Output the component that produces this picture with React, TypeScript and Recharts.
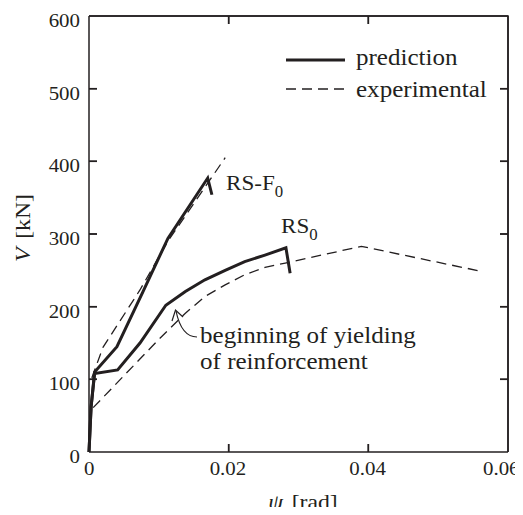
import { LineChart, Line, XAxis, YAxis, ReferenceLine } from "recharts";

const psiTicks = [0, 0.02, 0.04, 0.06];
const vTicks = [0, 100, 200, 300, 400, 500, 600];
const psiInnerTicks = [0.02, 0.04];
const vInnerTicks = [100, 200, 300, 400, 500];

// RS-F0, prediction
const rsf0PredPsi = [0, 0.0003, 0.0008, 0.004, 0.0077, 0.0113, 0.017, 0.0176];
const rsf0PredV = [0, 62, 110, 145, 220, 294, 377, 354];
// RS-F0, experimental
const rsf0ExpPsi = [0.0004, 0.002, 0.0073, 0.0113, 0.0195];
const rsf0ExpV = [102, 144, 223, 290, 405];
// RS0, prediction
const rs0PredPsi = [0, 0.0003, 0.0008, 0.0041, 0.0073, 0.011, 0.0138, 0.0166, 0.0195, 0.0223, 0.0252, 0.0282, 0.0288];
const rs0PredV = [0, 62, 108, 113, 150, 202, 221, 237, 250, 262, 271, 281, 246];
// RS0, experimental
const rs0ExpPsi = [0.0006, 0.0102, 0.0138, 0.0166, 0.0195, 0.0223, 0.0252, 0.0281, 0.039, 0.056];
const rs0ExpV = [61, 157, 191, 214, 230, 244, 254, 260, 283, 249];

const zip = (xs: number[], ys: number[]) => xs.map((x, i) => ({ psi: x, v: ys[i] }));

const INK = "#231f20";
const FONT = "Liberation Serif";
const PSI_MAX = 0.06;
const V_MAX = 600;

const W = 523;
const H = 515;
const margin = { top: 16, right: 15, left: 29, bottom: 33 };
const Y_AXIS_W = 60;
const X_AXIS_H = 30;
const plotL = margin.left + Y_AXIS_W;
const plotR = W - margin.right;
const plotT = margin.top;
const plotB = H - margin.bottom - X_AXIS_H;
const px = (psi: number) => plotL + (psi / PSI_MAX) * (plotR - plotL);
const py = (v: number) => plotB - (v / V_MAX) * (plotB - plotT);
const TICK_PX = 8;
const TICK_V = (TICK_PX / (plotB - plotT)) * V_MAX;
const TICK_PSI = (TICK_PX / (plotR - plotL)) * PSI_MAX;

const BottomTick = (props: any) => {
  const x = Number(props.x);
  const y = Number(props.y);
  const v = props.payload.value;
  const label = v === 0 ? "0" : v.toFixed(2);
  const tx = v === PSI_MAX ? 521 - 38 : v === 0 ? x - 5 : x - 19;
  return (
    <text transform={`translate(${tx},${y + 23}) scale(1.1,1)`} fontFamily={FONT} fontSize={19} fill={INK}>
      {label}
    </text>
  );
};

const LeftTick = (props: any) => {
  const x = Number(props.x);
  const y = Number(props.y);
  return (
    <text transform={`translate(${x - 9},${y + 11}) scale(1.1,1)`} textAnchor="end" fontFamily={FONT} fontSize={19} fill={INK}>
      {props.payload.value}
    </text>
  );
};

const dashed = { stroke: INK, strokeWidth: 1.3, strokeDasharray: "10 6" };
const solid = { stroke: INK, strokeWidth: 3 };

export default function App() {
  return (
    <div style={{ width: W, height: H, margin: -8, background: "#fff" }}>
      <LineChart width={W} height={H} margin={margin}>
        <XAxis
          type="number"
          dataKey="psi"
          domain={[0, PSI_MAX]}
          ticks={psiTicks}
          interval={0}
          tickSize={0}
          tickMargin={0}
          tickLine={false}
          height={X_AXIS_H}
          stroke={INK}
          strokeWidth={1.5}
          tick={BottomTick}
        />
        <YAxis
          type="number"
          domain={[0, V_MAX]}
          ticks={vTicks}
          interval={0}
          tickSize={0}
          tickMargin={0}
          tickLine={false}
          width={Y_AXIS_W}
          stroke={INK}
          strokeWidth={1.5}
          tick={LeftTick}
        />
        <ReferenceLine y={V_MAX} stroke={INK} strokeWidth={1.5} />
        <ReferenceLine x={PSI_MAX} stroke={INK} strokeWidth={1.5} />
        {psiInnerTicks.map((t) => (
          <ReferenceLine key={`rb${t}`} segment={[{ x: t, y: 0 }, { x: t, y: TICK_V }]} stroke={INK} strokeWidth={1.5} />
        ))}
        {psiInnerTicks.map((t) => (
          <ReferenceLine key={`rt${t}`} segment={[{ x: t, y: V_MAX - TICK_V }, { x: t, y: V_MAX }]} stroke={INK} strokeWidth={1.5} />
        ))}
        {vInnerTicks.map((t) => (
          <ReferenceLine key={`rl${t}`} segment={[{ x: 0, y: t }, { x: TICK_PSI, y: t }]} stroke={INK} strokeWidth={1.5} />
        ))}
        {vInnerTicks.map((t) => (
          <ReferenceLine key={`rr${t}`} segment={[{ x: PSI_MAX - TICK_PSI, y: t }, { x: PSI_MAX, y: t }]} stroke={INK} strokeWidth={1.5} />
        ))}
        <Line data={zip(rs0ExpPsi, rs0ExpV)} dataKey="v" type="linear" {...dashed} dot={false} isAnimationActive={false} />
        <Line data={zip(rsf0ExpPsi, rsf0ExpV)} dataKey="v" type="linear" {...dashed} dot={false} isAnimationActive={false} />
        <Line data={zip(rs0PredPsi, rs0PredV)} dataKey="v" type="linear" {...solid} dot={false} isAnimationActive={false} />
        <Line data={zip(rsf0PredPsi, rsf0PredV)} dataKey="v" type="linear" {...solid} dot={false} isAnimationActive={false} />

        <g fontFamily={FONT} fill={INK}>
          {/* frame and inward ticks */}
          <path d={`M${plotL},${plotT}H${plotR}V${plotB}`} fill="none" stroke={INK} strokeWidth={1.5} />
          {psiInnerTicks.map((t) => (
            <path key={`b${t}`} d={`M${px(t)},${plotB}v${-TICK_PX}M${px(t)},${plotT}v${TICK_PX}`} fill="none" stroke={INK} strokeWidth={1.5} />
          ))}
          {vInnerTicks.map((t) => (
            <path key={`l${t}`} d={`M${plotL},${py(t)}h${TICK_PX}M${plotR},${py(t)}h${-TICK_PX}`} fill="none" stroke={INK} strokeWidth={1.5} />
          ))}

          <line x1={286} x2={345} y1={60} y2={60} stroke={INK} strokeWidth={3} />
          <text transform="translate(356,65) scale(1.09,1)" fontSize={23}>prediction</text>
          <line x1={286} x2={345} y1={89} y2={89} {...dashed} />
          <text transform="translate(356,97) scale(1.09,1)" fontSize={23}>experimental</text>

          <text transform="translate(226,190) scale(1.05,1)" fontSize={22}>
            RS-F<tspan fontSize={16} dy={7}>0</tspan>
          </text>
          <text transform="translate(281,233) scale(1.05,1)" fontSize={22}>
            RS<tspan fontSize={16} dy={7}>0</tspan>
          </text>

          <text transform="translate(200,343) scale(1.09,1)" fontSize={23}>beginning of yielding</text>
          <text transform="translate(200,369) scale(1.09,1)" fontSize={23}>of reinforcement</text>
          <path d="M197,337 C187,337 180,330 176,311" fill="none" stroke={INK} strokeWidth={1.2} />
          <path d="M172,321 L175.5,310 L183,317" fill="none" stroke={INK} strokeWidth={1.2} />

          <text transform="translate(30,228) rotate(-90) scale(1.08,1)" fontSize={22} textAnchor="middle">
            <tspan fontStyle="italic">V</tspan>
            <tspan dx={8}>[kN]</tspan>
          </text>
          <text transform="translate(303,509) scale(1.08,1)" fontSize={22} textAnchor="middle">
            <tspan fontStyle="italic">ψ</tspan>
            <tspan dx={8}>[rad]</tspan>
          </text>
        </g>
      </LineChart>
    </div>
  );
}
